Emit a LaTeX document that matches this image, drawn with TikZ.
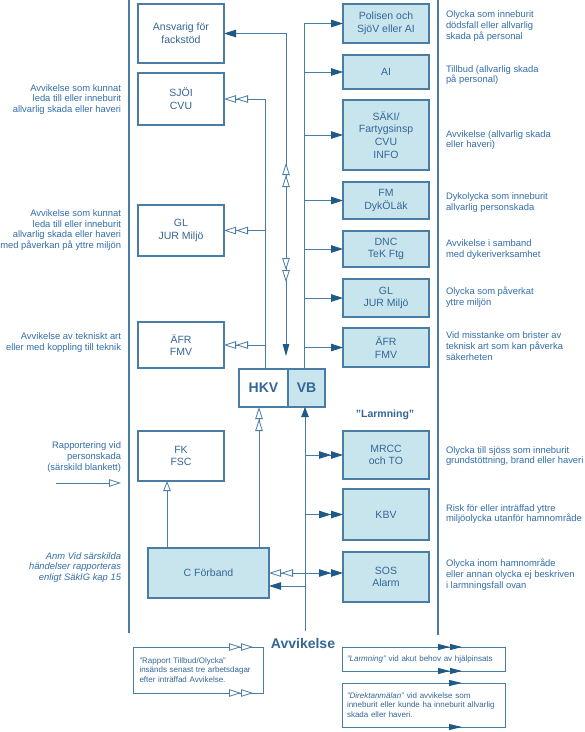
\documentclass[tikz,border=0pt]{standalone}
\usepackage{fontspec}
\setmainfont{Liberation Sans}
\usetikzlibrary{arrows.meta,calc}
\definecolor{lineblue}{RGB}{74,125,165}
\definecolor{fillblue}{RGB}{200,229,238}
\definecolor{txtblue}{RGB}{52,102,150}
\definecolor{sideblue}{RGB}{50,110,170}
\definecolor{arrblue}{RGB}{30,90,135}
\begin{document}
\begin{tikzpicture}[x=1pt,y=-1pt,
  every node/.style={inner sep=0pt, outer sep=0pt},
  lbox/.style={draw=lineblue, line width=1.1pt, fill=white, text=txtblue, align=center, font=\fontsize{10.5}{12.7}\selectfont},
  rbox/.style={lbox, fill=fillblue},
  lw/.style={minimum width=86pt},
  bigtxt/.style={font=\fontsize{14}{16}\selectfont\bfseries},
  sidel/.style={anchor=east, align=right, text=sideblue, font=\fontsize{9.4}{10.8}\selectfont},
  sider/.style={anchor=west, align=left, text=sideblue, font=\fontsize{9.4}{10.8}\selectfont},
  smallbox/.style={draw=lineblue, line width=0.9pt, fill=white, text=txtblue, align=left, font=\fontsize{8}{9.6}\selectfont},
  conn/.style={draw=lineblue, line width=0.8pt},
  divider/.style={draw=lineblue, line width=1.5pt},
  odarrow/.style={conn, -{Triangle[open,fill=white,length=12pt,width=7.5pt] Triangle[open,fill=white,length=12pt,width=7.5pt]}},
  oarrow/.style={conn, -{Triangle[open,fill=white,length=10pt,width=7.5pt]}},
  farrow/.style={conn, -{Triangle[color=arrblue,length=12pt,width=7.5pt]}},
  fdarrow/.style={conn, -{Triangle[color=arrblue,length=12pt,width=7.5pt] Triangle[color=arrblue,length=12pt,width=7.5pt]}},
  fdsarrow/.style={conn, -{Triangle[color=arrblue,length=12pt,width=6pt] Triangle[color=arrblue,length=12pt,width=6pt]}},
  fssarrow/.style={conn, -{Triangle[color=arrblue,length=13pt,width=6pt]}}
]
\useasboundingbox (0,0) rectangle (585,732);
\fill[white] (0,0) rectangle (585,732);

% dividers
\coordinate (d1t) at (129,0); \coordinate (d1b) at (129,633);
\coordinate (d2t) at (438,0); \coordinate (d2b) at (438,635);
\draw[divider] (d1t) -- (d1b);
\draw[divider] (d2t) -- (d2b);

% left boxes
\node[lbox, lw, minimum height=59pt] (ans) at (181,33.5) {Ansvarig för\\fackstöd};
\node[lbox, lw, minimum height=52pt] (sjoi) at (181,99) {SJÖI\\CVU};
\node[lbox, lw, minimum height=51pt] (gla) at (181,230.5) {GL\\JUR Miljö};
\node[lbox, lw, minimum height=46pt] (afra) at (181,345) {ÄFR\\FMV};
\node[lbox, lw, minimum height=50pt] (fk) at (181,456) {FK\\FSC};
\node[rbox, minimum width=121pt, minimum height=50pt] (cf) at (208.5,573) {C Förband};

% centre
\node[lbox, bigtxt, minimum width=49pt, minimum height=38pt] (hkv) at (263.5,388) {HKV};
\node[rbox, bigtxt, minimum width=37pt, minimum height=38pt] (vb) at (306.5,388) {VB};
\node[text=txtblue, font=\fontsize{10.5}{12}\selectfont\bfseries] (larmlbl) at (385,415) {\symbol{34}Larmning\symbol{34}};
\node[text=txtblue, font=\fontsize{14}{16}\selectfont\bfseries] (avv) at (303,643) {Avvikelse};

% right boxes
\node[rbox, lw, minimum height=39pt] (pol) at (386,23.5) {Polisen och\\SjöV eller AI};
\node[rbox, lw, minimum height=34pt] (ai) at (386,72) {AI};
\node[rbox, lw, minimum height=70pt] (saki) at (386,135) {SÄKI/\\Fartygsinsp\\CVU\\INFO};
\node[rbox, lw, minimum height=37pt] (fm) at (386,200.5) {FM\\DykÖLäk};
\node[rbox, lw, minimum height=36pt] (dnc) at (386,249) {DNC\\TeK Ftg};
\node[rbox, lw, minimum height=38pt] (glb) at (386,298) {GL\\JUR Miljö};
\node[rbox, lw, minimum height=39pt] (afrb) at (386,347.5) {ÄFR\\FMV};
\node[rbox, lw, minimum height=48pt] (mrcc) at (386,455) {MRCC\\och TO};
\node[rbox, lw, minimum height=51pt] (kbv) at (386,514.5) {KBV};
\node[rbox, lw, minimum height=50pt] (sos) at (386,577) {SOS\\Alarm};

% left side texts
\node[sidel] (t1) at (121,99.5) {Avvikelse som kunnat\\leda till eller inneburit\\allvarlig skada eller haveri};
\node[sidel] (t2) at (121,230) {Avvikelse som kunnat\\leda till eller inneburit\\allvarlig skada eller haveri\\med påverkan på yttre miljön};
\node[sidel] (t3) at (121,342.5) {Avvikelse av tekniskt art\\eller med koppling till teknik};
\node[sidel] (t4) at (121,457) {Rapportering vid\\personskada\\(särskild blankett)};
\node[sidel, font=\fontsize{9.4}{10.8}\selectfont\itshape] (t5) at (121,567.5) {Anm Vid särskilda\\händelser rapporteras\\enligt SäkIG kap 15};

% right side texts
\node[sider] (r1) at (446,26) {Olycka som inneburit\\dödsfall eller allvarlig\\skada på personal};
\node[sider] (r2) at (446,75) {Tillbud (allvarlig skada\\på personal)};
\node[sider] (r3) at (446,140) {Avvikelse (allvarlig skada\\eller haveri)};
\node[sider] (r4) at (446,202.5) {Dykolycka som inneburit\\allvarlig personskada};
\node[sider] (r5) at (446,249.5) {Avvikelse i samband\\med dykeriverksamhet};
\node[sider] (r6) at (446,297) {Olycka som påverkat\\yttre miljön};
\node[sider] (r7) at (446,346) {Vid misstanke om brister av\\teknisk art som kan påverka\\säkerheten};
\node[sider] (r8) at (446,456) {Olycka till sjöss som inneburit\\grundstöttning, brand eller haveri};
\node[sider] (r9) at (446,514) {Risk för eller inträffad yttre\\miljöolycka utanför hamnområde};
\node[sider] (r10) at (446,574.5) {Olycka inom hamnområde\\eller annan olycka ej beskriven\\i larmningsfall ovan};

% bottom boxes
\node[smallbox, minimum width=130pt, minimum height=46pt, text width=117pt] (rap) at (198,670) {\symbol{34}Rapport Tillbud/Olycka\symbol{34}\\insänds senast tre arbetsdagar\\efter inträffad Avvikelse.};
\node[smallbox, minimum width=163pt, minimum height=24pt, text width=153pt] (larm) at (423.5,659) {\textit{\symbol{34}Larmning\symbol{34}} vid akut behov av hjälpinsats};
\node[smallbox, minimum width=163pt, minimum height=44pt, text width=153pt] (dir) at (423.5,705) {\textit{\symbol{34}Direktanmälan\symbol{34}} vid avvikelse som\\inneburit eller kunde ha inneburit allvarlig\\skada eller haveri.};

% bus coordinates
\coordinate (lbus) at (265,0);
\coordinate (mbus) at (286,0);
\coordinate (rbus) at (304,0);
\coordinate (lbus2) at (259,0);
\coordinate (rbus2) at (305,0);
\coordinate (fkx) at (167,0);

% right bus (upper)
\draw[conn] (rbus |- pol) -- (rbus |- vb.north);
\foreach \n in {pol,ai,saki,fm,dnc,glb,afrb} \draw[farrow] (rbus |- \n) -- (\n);

% left bus (upper)
\draw[conn] (lbus |- sjoi) -- (lbus |- hkv.north);
\foreach \n in {sjoi,gla,afra} \draw[odarrow] (lbus |- \n) -- (\n);

% middle two-way line
\coordinate (mend) at ($(mbus |- hkv.north)+(0,-13)$);
\draw[conn, {Triangle[color=arrblue,length=12pt,width=7.5pt]}-{Triangle[color=arrblue,length=12pt,width=6.5pt]}] (ans) -- (mbus |- ans) -- (mend);
\coordinate (mu1) at (286,190); \coordinate (mu2) at (286,163);
\coordinate (md1) at (286,255); \coordinate (md2) at (286,282);
\draw[odarrow] (mu1) -- (mu2);
\draw[odarrow] (md1) -- (md2);

% lower part
\draw[odarrow] (lbus2 |- cf.north) -- (lbus2 |- hkv.south);
\coordinate (avtop) at (305,631);
\draw[conn, -{Triangle[color=arrblue,length=10pt,width=7.5pt]}] (avtop) -- (rbus2 |- vb.south);
\foreach \n in {mrcc,kbv} \draw[fdarrow] (rbus2 |- \n) -- (\n);
\draw[fdarrow] (rbus2 |- cf) -- (sos.west |- cf);
\draw[odarrow] (rbus2 |- cf) -- (cf);
\draw[farrow] ($(rbus2 |- cf)+(0,13)$) -- ($(cf.east)+(0,13)$);
\draw[oarrow] (fkx |- cf.north) -- (fkx |- fk.south);

% Rapportering arrow
\coordinate (rs) at (56,483); \coordinate (re) at (121,483);
\draw[conn, -{Triangle[open,fill=white,length=12pt,width=7.5pt]}] (rs) -- (re);

% arrows on bottom boxes
\draw[odarrow] ($(rap.north east)+(-40,0)$) -- ($(rap.north east)+(-10,0)$);
\draw[odarrow] ($(rap.south east)+(-40,0)$) -- ($(rap.south east)+(-10,0)$);
\draw[fdsarrow] ($(larm.north east)+(-75,0)$) -- ($(larm.north east)+(-43,0)$);
\draw[fdsarrow] ($(larm.south east)+(-75,0)$) -- ($(larm.south east)+(-43,0)$);
\draw[fssarrow] ($(dir.north east)+(-75,0)$) -- ($(dir.north east)+(-43,0)$);
\draw[fssarrow] ($(dir.south east)+(-75,0)$) -- ($(dir.south east)+(-43,0)$);
\end{tikzpicture}
\end{document}
